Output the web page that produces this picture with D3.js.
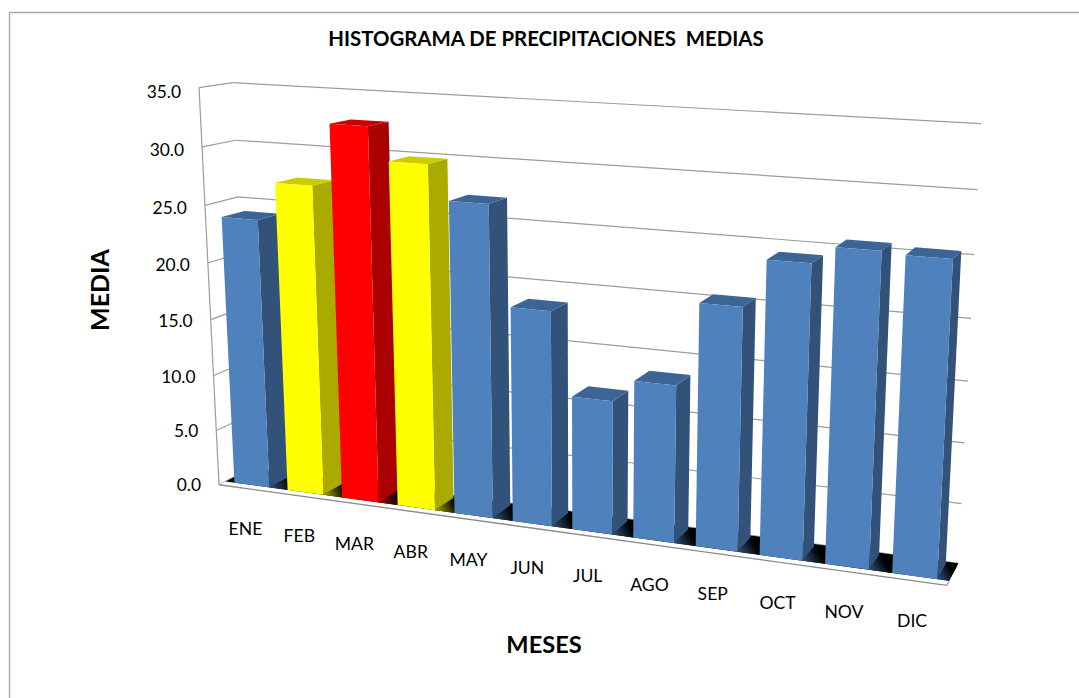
<!DOCTYPE html>
<html><head><meta charset="utf-8">
<script src="https://cdn.jsdelivr.net/npm/d3@7"></script>
<style>html,body{margin:0;background:#fff}svg{display:block}text{font-family:Lato,"Open Sans",sans-serif;fill:#000}</style>
</head><body><svg id="c" width="1079" height="698"></svg>
<script>
const categories=["ENE","FEB","MAR","ABR","MAY","JUN","JUL","AGO","SEP","OCT","NOV","DIC"];
const media=[23.9,27.2,32.5,29.7,26.8,18.4,11.4,13.3,20.2,24.1,25.5,25.3];
const highlight={FEB:"y",MAR:"r",ABR:"y"};
const valueTicks=[0,5,10,15,20,25,30,35];
const title="HISTOGRAMA DE PRECIPITACIONES  MEDIAS", xTitle="MESES", yTitle="MEDIA";
const palette={b:["#4f81bd","#32527a","#3c6595"],y:["#ffff00","#aaaa00","#cccc00"],r:["#ff0000","#aa0000","#cc0000"]};

// 3D box calibration: [cube x,y,z] -> picture x,y
const anchors=[[0,0,0,219,483],[1,0,0,947,588],[0,0,1,251,473],[1,0,1,958,560],[0,1,0,199,89],[0,1,1,233,81],[1,1,1,981,124],
 [.0417,0,.2,251.5,482.5],[.4583,0,.2,532,523],[.9583,0,.2,915,577]];
function fit(a){const A=[],b=[];a.forEach(([X,Y,Z,x,y])=>{A.push([X,Y,Z,1,0,0,0,0,-x*X,-x*Y,-x*Z]);b.push(x);A.push([0,0,0,0,X,Y,Z,1,-y*X,-y*Y,-y*Z]);b.push(y);});
 const n=11,M=d3.range(n).map(i=>d3.range(n+1).map(j=>j<n?d3.sum(A,r=>r[i]*r[j]):d3.sum(A,(r,k)=>r[i]*b[k])));
 for(let i=0;i<n;i++){let p=i;for(let r=i+1;r<n;r++)if(Math.abs(M[r][i])>Math.abs(M[p][i]))p=r;[M[i],M[p]]=[M[p],M[i]];
  for(let r=0;r<n;r++)if(r!==i){const f=M[r][i]/M[i][i];for(let c=i;c<=n;c++)M[r][c]-=f*M[i][c];}}
 return d3.range(n).map(i=>M[i][n]/M[i][i]);}
const P=fit(anchors);
const proj=(X,Y,Z)=>{const w=P[8]*X+P[9]*Y+P[10]*Z+1;return[(P[0]*X+P[1]*Y+P[2]*Z+P[3])/w,(P[4]*X+P[5]*Y+P[6]*Z+P[7])/w];};

const xBand=d3.scaleBand().domain(categories).range([0,1]).paddingInner(.34).paddingOuter(.17);
const yScale=d3.scaleLinear().domain([0,35]).range([0,1]);
const zFront=.2,zBack=.9;
const svg=d3.select("#c");
const poly=(g,pts,fill)=>g.append("polygon").attr("points",pts.map(p=>p.join(",")).join(" ")).attr("fill",fill);
const line=(g,a,b,c="#9c9c9c",w=1.2)=>g.append("line").attr("x1",a[0]).attr("y1",a[1]).attr("x2",b[0]).attr("y2",b[1]).attr("stroke",c).attr("stroke-width",w);

// chart frame
svg.append("path").attr("d","M9.5,698V12.5H1079").attr("fill","none").attr("stroke","#a6a6a6").attr("stroke-width",1.4);
// walls
const grid=svg.append("g");
valueTicks.forEach(v=>{const y=yScale(v);line(grid,proj(0,y,0),proj(0,y,1));line(grid,proj(0,y,1),proj(1,y,1));});
line(grid,proj(0,0,0),proj(0,1,0));
// floor
const floor=svg.append("g");
poly(floor,[proj(0,0,0),proj(1,0,0),proj(1,0,1),proj(0,0,1)],"#fff");
poly(floor,[proj(0,0,zFront),proj(1,0,zFront),proj(1,0,1),proj(0,0,1)],"#000");
line(floor,proj(0,0,0),proj(1,0,0),"#8c8c8c",1.4);line(floor,proj(1,0,0),proj(1,0,zFront),"#a6a6a6");
// shading on the floor next to each bar
const defs=svg.append("defs");
categories.forEach((c,i)=>{const r=xBand(c)+xBand.bandwidth(),nx=r+xBand.step()-xBand.bandwidth();
 const a=proj(r,0,zFront),b=proj(r+(nx-r)*.5,0,zBack);
 const id="g"+i,col=palette[highlight[c]||"b"][1];
 const g=defs.append("linearGradient").attr("id",id).attr("gradientUnits","userSpaceOnUse").attr("x1",a[0]).attr("y1",a[1]).attr("x2",b[0]).attr("y2",b[1]);
 g.append("stop").attr("offset",0).attr("stop-color",col);g.append("stop").attr("offset",.7).attr("stop-color","#000");
 poly(floor,[proj(r,0,zFront),proj(Math.min(nx,1),0,zFront),proj(Math.min(nx,1),0,zBack),proj(r,0,zBack)],`url(#${id})`);});
// bars
const bars=svg.append("g");
categories.forEach((c,i)=>{const l=xBand(c),r=l+xBand.bandwidth(),t=yScale(media[i]),col=palette[highlight[c]||"b"];
 poly(bars,[proj(r,0,zFront),proj(r,0,zBack),proj(r,t,zBack),proj(r,t,zFront)],col[1]);
 poly(bars,[proj(l,t,zFront),proj(r,t,zFront),proj(r,t,zBack),proj(l,t,zBack)],col[2]);
 poly(bars,[proj(l,0,zFront),proj(r,0,zFront),proj(r,t,zFront),proj(l,t,zFront)],col[0]);});
// tick labels
valueTicks.forEach(v=>{const t=yScale(v),p=proj(0,t,0);svg.append("text").attr("x",p[0]-18).attr("y",p[1]+4*t).attr("dy",".35em").attr("text-anchor","end").attr("font-size",17.4).text(v.toFixed(1));});
categories.forEach(c=>{const p=proj(xBand(c)+xBand.bandwidth()/2,0,0);svg.append("text").attr("x",p[0]).attr("y",p[1]+46.5).attr("text-anchor","middle").attr("font-size",17.6).text(c);});
svg.append("text").attr("x",546).attr("y",46).attr("text-anchor","middle").attr("font-size",20.4).attr("font-weight",700).style("white-space","pre").text(title);
svg.append("text").attr("x",544).attr("y",653).attr("text-anchor","middle").attr("font-size",23.6).attr("font-weight",700).text(xTitle);
svg.append("text").attr("transform","translate(109,290) rotate(-90)").attr("text-anchor","middle").attr("font-size",25).attr("font-weight",700).text(yTitle);
</script></body></html>
